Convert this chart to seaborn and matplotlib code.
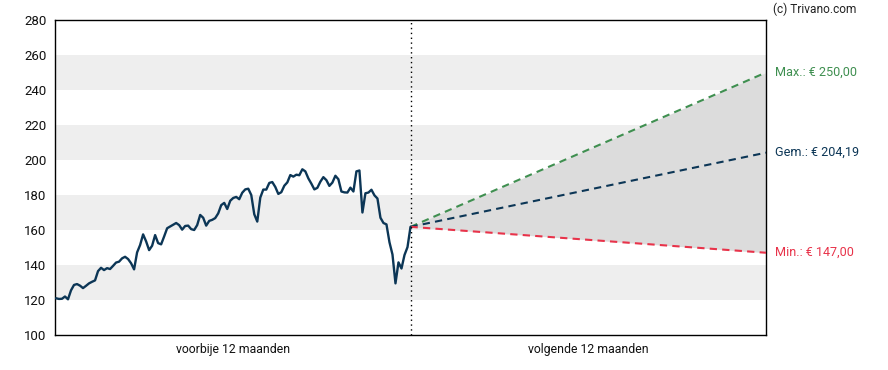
import numpy as np
import pandas as pd
import matplotlib
matplotlib.use("Agg")
import matplotlib.pyplot as plt
import seaborn as sns

# ---- data ----
prices = [121.0, 120.6, 120.7, 122.0, 120.4, 125.5, 128.6, 129.1, 128.2, 126.8,
          128.1, 129.5, 130.4, 131.2, 136.5, 138.4, 137.1, 138.2, 137.7, 139.5,
          141.4, 141.9, 143.8, 144.7, 143.4, 141.0, 137.5, 147.2, 151.4, 157.5,
          153.5, 148.5, 151.0, 157.1, 152.5, 151.8, 156.3, 161.0, 162.0, 163.0,
          164.0, 162.8, 160.2, 162.3, 162.5, 160.5, 160.0, 162.8, 168.6, 167.0,
          162.5, 165.2, 165.8, 166.8, 169.5, 174.2, 175.5, 172.0, 176.7, 178.3,
          178.9, 177.6, 181.3, 183.2, 183.6, 180.0, 169.0, 164.8, 178.5, 183.1,
          183.1, 186.9, 187.4, 184.6, 180.6, 181.6, 185.3, 187.2, 191.4, 190.5,
          191.6, 191.3, 194.7, 193.5, 189.5, 186.5, 183.2, 184.1, 187.6, 190.2,
          188.5, 185.2, 187.1, 191.0, 189.0, 182.0, 181.5, 181.4, 184.2, 182.0,
          193.5, 194.0, 170.0, 181.0, 181.4, 183.0, 179.8, 178.0, 167.0, 164.0,
          163.2, 153.0, 146.0, 129.5, 141.5, 138.0, 145.7, 150.2, 161.8]
forecast_max = 250.00
forecast_avg = 204.19
forecast_min = 147.00
period_labels = ["voorbije 12 maanden", "volgende 12 maanden"]
y_ticks = [100, 120, 140, 160, 180, 200, 220, 240, 260, 280]
band_ranges = [(120, 140), (160, 180), (200, 220), (240, 260)]
# -------------

PAST_DAYS = 365
FUT_DAYS = 365
navy = "#0c3656"
green = "#3f8f50"
red = "#e8334a"

days = np.linspace(1, PAST_DAYS, len(prices))
df = pd.DataFrame({"day": days, "price": prices})

last = prices[-1]
fc = pd.DataFrame({
    "day": [PAST_DAYS, PAST_DAYS + FUT_DAYS] * 3,
    "value": [last, forecast_max, last, forecast_avg, last, forecast_min],
    "kind": ["max", "max", "avg", "avg", "min", "min"],
})

sns.set_style("white")
plt.rcParams["font.family"] = ["Roboto", "DejaVu Sans"]

fig = plt.figure(figsize=(8.88, 3.70), dpi=100)
ax = fig.add_axes([55 / 888, 35 / 370, 711 / 888, 315 / 370])

x0, x1 = 0, PAST_DAYS + FUT_DAYS
for lo, hi in band_ranges:
    ax.axhspan(lo, hi, color="#eeeeee", lw=0, zorder=0)

ax.fill_between([PAST_DAYS, x1], [last, forecast_min], [last, forecast_max],
                color="#dcdcdc", lw=0, zorder=1)

sns.lineplot(data=df, x="day", y="price", color=navy, lw=1.7, ax=ax, zorder=4)
sns.lineplot(data=fc, x="day", y="value", hue="kind",
             palette={"max": green, "avg": navy, "min": red},
             dashes=False, lw=1.5, ax=ax, legend=False, zorder=3)
for ln in ax.lines[1:]:
    ln.set_linestyle((0, (3.5, 2.5)))

ax.axvline(PAST_DAYS, color="black", lw=1, ls=(0, (1, 2.5)), zorder=5)

ax.set_xlim(x0, x1)
ax.set_ylim(100, 280)
ax.set_yticks(y_ticks)
ax.set_xticks([PAST_DAYS])
ax.set_xticklabels([""])
ax.set_xticks([PAST_DAYS / 2, PAST_DAYS + FUT_DAYS / 2], minor=True)
ax.set_xticklabels(period_labels, minor=True)
ax.tick_params(axis="x", which="minor", length=0, pad=6, labelsize=8.8, colors="#111111")
ax.tick_params(axis="x", which="major", length=5, width=1, direction="out", color="black")
ax.tick_params(axis="y", length=4, width=1, direction="out", labelsize=9.5, pad=2,
               colors="black", labelcolor="#111111")
ax.set_xlabel("")
ax.set_ylabel("")
for s in ax.spines.values():
    s.set_visible(True)
    s.set_color("black")
    s.set_linewidth(1)

for val, txt, col in [(forecast_max, "Max.: € 250,00", green),
                      (forecast_avg, "Gem.: € 204,19", navy),
                      (forecast_min, "Min.: € 147,00", red)]:
    ax.annotate(txt, xy=(1, val), xycoords=("axes fraction", "data"),
                xytext=(6.5, 0), textcoords="offset points", va="center",
                ha="left", fontsize=9.1, color=col, annotation_clip=False)

fig.text(773 / 888, 1 - 9 / 370, "(c) Trivano.com", fontsize=8.6, color="#222222",
         ha="left", va="center")

fig.savefig("out.png", dpi=100)
